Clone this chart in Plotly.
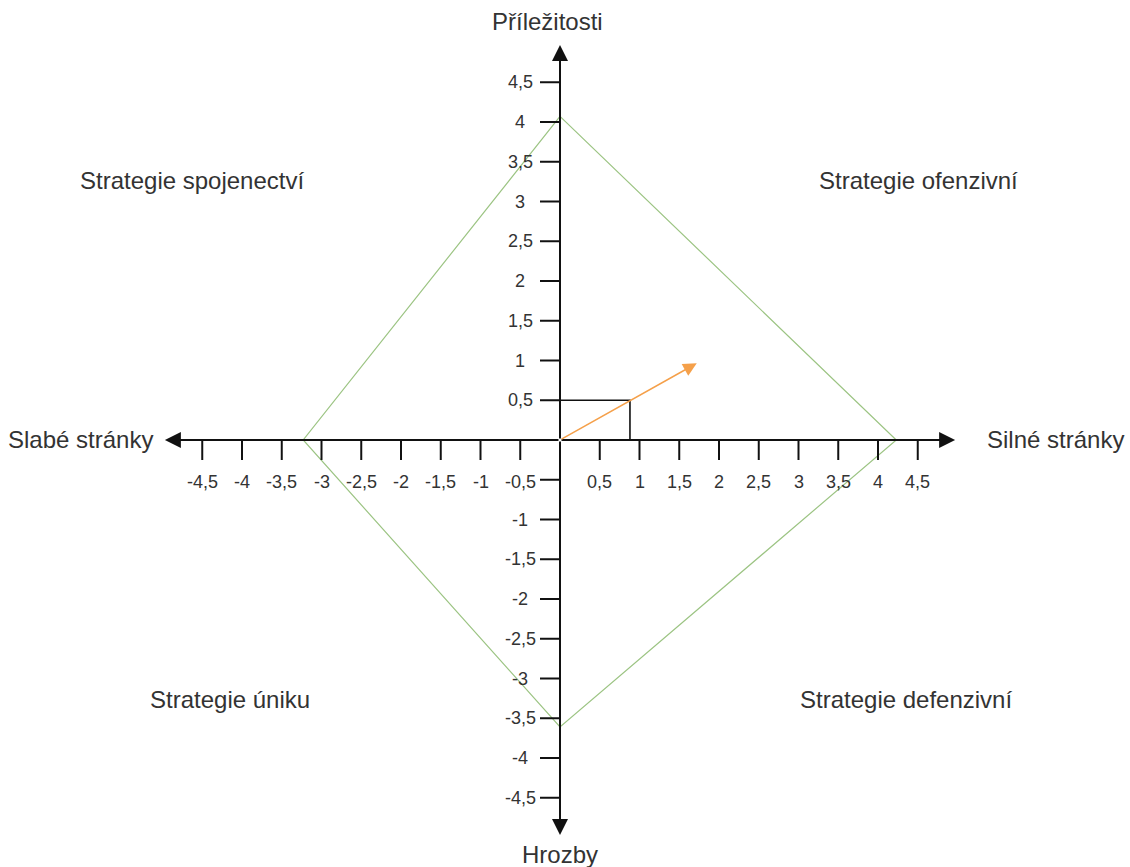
import plotly.graph_objects as go

# ---- data ----
x_tick_vals = [-4.5, -4, -3.5, -3, -2.5, -2, -1.5, -1, -0.5, 0.5, 1, 1.5, 2, 2.5, 3, 3.5, 4, 4.5]
y_tick_vals = [4.5, 4, 3.5, 3, 2.5, 2, 1.5, 1, 0.5, -0.5, -1, -1.5, -2, -2.5, -3, -3.5, -4, -4.5]
x_tick_text = ["-4,5", "-4", "-3,5", "-3", "-2,5", "-2", "-1,5", "-1", "-0,5",
               "0,5", "1", "1,5", "2", "2,5", "3", "3,5", "4", "4,5"]
# the "-0,5" of the vertical axis coincides with the horizontal one, shown once
y_tick_text = ["4,5", "4", "3,5", "3", "2,5", "2", "1,5", "1", "0,5",
               "", "-1", "-1,5", "-2", "-2,5", "-3", "-3,5", "-4", "-4,5"]

strengths = 4.23      # Silné stránky
weaknesses = -3.23    # Slabé stránky
opportunities = 4.07  # Příležitosti
threats = -3.61       # Hrozby

vector_x = 1.72
vector_y = 0.965
proj_x = 0.88
proj_y = 0.5

axis_extent = 4.97

quadrant_labels = ["Strategie spojenectví", "Strategie ofenzivní", "Strategie úniku", "Strategie defenzivní"]
quadrant_x = [-4.635, 4.509, -4.151, 4.35]
quadrant_y = [3.26, 3.26, -3.26, -3.26]

# ---- figure ----
PX = 79.5  # pixels per unit
W, H = 1130, 867
OX, OY = 560, 440
x_range = [-OX / PX, (W - OX) / PX]
y_range = [-(H - OY) / PX, OY / PX]

FONT = "Liberation Sans, Arial, sans-serif"
TXT = "#333333"

fig = go.Figure()

# SWOT diamond
fig.add_trace(go.Scatter(
    x=[0, strengths, 0, weaknesses, 0],
    y=[opportunities, 0, threats, 0, opportunities],
    mode="lines", line=dict(color="#9cc483", width=1.2), hoverinfo="skip"))

# tick marks
tl = 20 / PX
tx, ty = [], []
for v in x_tick_vals:
    tx += [v, v, None]
    ty += [0, -tl, None]
for v in y_tick_vals:
    tx += [-tl, 0, None]
    ty += [v, v, None]
fig.add_trace(go.Scatter(x=tx, y=ty, mode="lines",
                         line=dict(color="#111111", width=2), hoverinfo="skip"))

# projection lines
fig.add_trace(go.Scatter(x=[0, proj_x, proj_x], y=[proj_y, proj_y, 0], mode="lines",
                         line=dict(color="#111111", width=1.6), hoverinfo="skip"))

annotations = []
# axes with arrowheads
for (x, y) in [(axis_extent, 0), (-axis_extent, 0), (0, axis_extent), (0, -axis_extent)]:
    annotations.append(dict(x=x, y=y, ax=0, ay=0, xref="x", yref="y", axref="x", ayref="y",
                            text="", showarrow=True, arrowhead=2, arrowsize=1.6,
                            arrowwidth=2, arrowcolor="#111111", standoff=0, startstandoff=0))
# result vector
annotations.append(dict(x=vector_x, y=vector_y, ax=0, ay=0, xref="x", yref="y", axref="x", ayref="y",
                        text="", showarrow=True, arrowhead=2, arrowsize=1.8,
                        arrowwidth=1.5, arrowcolor="#f5a04a", standoff=0))

# tick labels
for v, t in zip(x_tick_vals, x_tick_text):
    annotations.append(dict(x=v, y=0, xref="x", yref="y", text=t, showarrow=False,
                            xanchor="center", yanchor="middle", yshift=-42,
                            font=dict(family=FONT, size=18, color=TXT)))
for v, t in zip(y_tick_vals, y_tick_text):
    if not t:
        continue
    annotations.append(dict(x=0, y=v, xref="x", yref="y", text=t, showarrow=False,
                            xanchor="center", yanchor="middle", xshift=-40,
                            font=dict(family=FONT, size=18, color=TXT)))

# axis labels
big = dict(family=FONT, size=24, color=TXT)
annotations.append(dict(x=0, y=y_range[1], xref="x", yref="y", text="Příležitosti", showarrow=False,
                        xanchor="center", yanchor="middle", xshift=-13, yshift=-21, font=big))
annotations.append(dict(x=0, y=y_range[0], xref="x", yref="y", text="Hrozby", showarrow=False,
                        xanchor="center", yanchor="middle", yshift=13, font=big))
annotations.append(dict(x=-axis_extent, y=0, xref="x", yref="y", text="Slabé stránky", showarrow=False,
                        xanchor="right", yanchor="middle", xshift=-10, yshift=1, font=big))
annotations.append(dict(x=axis_extent, y=0, xref="x", yref="y", text="Silné stránky", showarrow=False,
                        xanchor="left", yanchor="middle", xshift=30, yshift=1, font=big))

for t, x, y in zip(quadrant_labels, quadrant_x, quadrant_y):
    annotations.append(dict(x=x, y=y, xref="x", yref="y", text=t, showarrow=False,
                            xanchor="center", yanchor="middle", font=big))

fig.update_layout(
    width=W, height=H,
    margin=dict(l=0, r=0, t=0, b=0),
    paper_bgcolor="white", plot_bgcolor="white",
    showlegend=False,
    xaxis=dict(range=x_range, visible=False, fixedrange=True),
    yaxis=dict(range=y_range, visible=False, fixedrange=True),
    annotations=annotations,
)

fig.write_html("out.html", config={"displayModeBar": False},
               post_script="document.body.style.margin='0';document.body.style.overflow='hidden';")
